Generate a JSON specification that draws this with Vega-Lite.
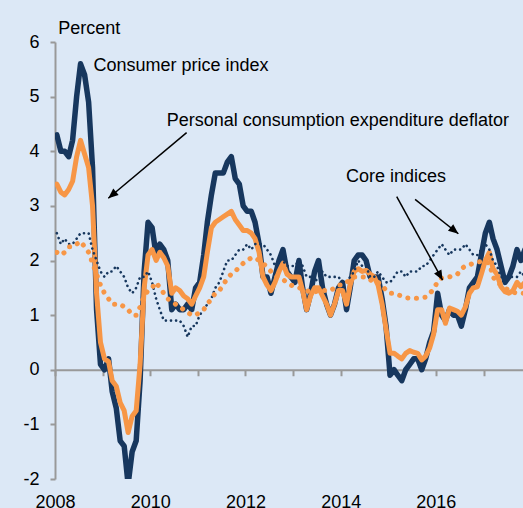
{
  "$schema": "https://vega.github.io/schema/vega-lite/v6.json",
  "width": 468,
  "height": 437,
  "autosize": {"type": "none"},
  "padding": {"left": 55, "top": 42, "right": 0, "bottom": 29},
  "background": "#dce8f6",
  "config": {
    "view": {"stroke": null},
    "font": "Liberation Sans",
    "axisY": {"grid": false, "titleAngle": 0, "titleAlign": "left", "titleBaseline": "alphabetic", "titleX": 2.7, "titleY": -9,
      "titleFontSize": 18, "titleFontWeight": "normal", "titleColor": "#000000", "labelFontSize": 18, "labelColor": "#000000",
      "labelPadding": 11, "tickSize": 5, "tickWidth": 2, "tickColor": "#999999", "domainColor": "#999999", "domainWidth": 2}
  },
  "datasets": {
    "m": [
      {"d":"2008-01-15","cpi":4.3,"pce":3.4,"ccpi":2.5,"cpce":2.15},
      {"d":"2008-02-15","cpi":4.0,"pce":3.25,"ccpi":2.3,"cpce":2.1},
      {"d":"2008-03-15","cpi":4.0,"pce":3.2,"ccpi":2.4,"cpce":2.15},
      {"d":"2008-04-15","cpi":3.9,"pce":3.3,"ccpi":2.3,"cpce":2.25},
      {"d":"2008-05-15","cpi":4.2,"pce":3.45,"ccpi":2.3,"cpce":2.25},
      {"d":"2008-06-15","cpi":5.0,"pce":3.9,"ccpi":2.4,"cpce":2.3},
      {"d":"2008-07-15","cpi":5.6,"pce":4.2,"ccpi":2.5,"cpce":2.35},
      {"d":"2008-08-15","cpi":5.4,"pce":3.95,"ccpi":2.5,"cpce":2.25},
      {"d":"2008-09-15","cpi":4.9,"pce":3.7,"ccpi":2.5,"cpce":2.15},
      {"d":"2008-10-15","cpi":3.7,"pce":3.0,"ccpi":2.2,"cpce":1.95},
      {"d":"2008-11-15","cpi":1.1,"pce":1.4,"ccpi":2.0,"cpce":1.75},
      {"d":"2008-12-15","cpi":0.1,"pce":0.5,"ccpi":1.8,"cpce":1.55},
      {"d":"2009-01-15","cpi":0.0,"pce":0.2,"ccpi":1.7,"cpce":1.4},
      {"d":"2009-02-15","cpi":0.2,"pce":0.15,"ccpi":1.8,"cpce":1.3},
      {"d":"2009-03-15","cpi":-0.4,"pce":-0.2,"ccpi":1.8,"cpce":1.2},
      {"d":"2009-04-15","cpi":-0.7,"pce":-0.3,"ccpi":1.9,"cpce":1.2},
      {"d":"2009-05-15","cpi":-1.3,"pce":-0.6,"ccpi":1.8,"cpce":1.2},
      {"d":"2009-06-15","cpi":-1.4,"pce":-0.75,"ccpi":1.7,"cpce":1.15},
      {"d":"2009-07-15","cpi":-2.1,"pce":-1.15,"ccpi":1.5,"cpce":1.1},
      {"d":"2009-08-15","cpi":-1.5,"pce":-0.85,"ccpi":1.4,"cpce":1.0},
      {"d":"2009-09-15","cpi":-1.3,"pce":-0.75,"ccpi":1.5,"cpce":1.0},
      {"d":"2009-10-15","cpi":-0.2,"pce":0.1,"ccpi":1.7,"cpce":1.15},
      {"d":"2009-11-15","cpi":1.8,"pce":1.5,"ccpi":1.7,"cpce":1.35},
      {"d":"2009-12-15","cpi":2.7,"pce":2.1,"ccpi":1.8,"cpce":1.45},
      {"d":"2010-01-15","cpi":2.6,"pce":2.2,"ccpi":1.6,"cpce":1.5},
      {"d":"2010-02-15","cpi":2.1,"pce":2.0,"ccpi":1.3,"cpce":1.6},
      {"d":"2010-03-15","cpi":2.3,"pce":2.15,"ccpi":1.1,"cpce":1.5},
      {"d":"2010-04-15","cpi":2.2,"pce":2.05,"ccpi":0.9,"cpce":1.4},
      {"d":"2010-05-15","cpi":2.0,"pce":1.9,"ccpi":0.9,"cpce":1.3},
      {"d":"2010-06-15","cpi":1.1,"pce":1.4,"ccpi":0.9,"cpce":1.25},
      {"d":"2010-07-15","cpi":1.2,"pce":1.5,"ccpi":0.9,"cpce":1.2},
      {"d":"2010-08-15","cpi":1.1,"pce":1.45,"ccpi":0.9,"cpce":1.15},
      {"d":"2010-09-15","cpi":1.1,"pce":1.35,"ccpi":0.8,"cpce":1.1},
      {"d":"2010-10-15","cpi":1.2,"pce":1.3,"ccpi":0.6,"cpce":1.05},
      {"d":"2010-11-15","cpi":1.1,"pce":1.2,"ccpi":0.8,"cpce":1.0},
      {"d":"2010-12-15","cpi":1.5,"pce":1.35,"ccpi":0.8,"cpce":1.0},
      {"d":"2011-01-15","cpi":1.6,"pce":1.5,"ccpi":1.0,"cpce":1.05},
      {"d":"2011-02-15","cpi":2.1,"pce":1.7,"ccpi":1.1,"cpce":1.1},
      {"d":"2011-03-15","cpi":2.7,"pce":2.15,"ccpi":1.2,"cpce":1.2},
      {"d":"2011-04-15","cpi":3.2,"pce":2.6,"ccpi":1.3,"cpce":1.3},
      {"d":"2011-05-15","cpi":3.6,"pce":2.7,"ccpi":1.5,"cpce":1.4},
      {"d":"2011-06-15","cpi":3.6,"pce":2.75,"ccpi":1.6,"cpce":1.45},
      {"d":"2011-07-15","cpi":3.6,"pce":2.8,"ccpi":1.8,"cpce":1.55},
      {"d":"2011-08-15","cpi":3.8,"pce":2.85,"ccpi":2.0,"cpce":1.68},
      {"d":"2011-09-15","cpi":3.9,"pce":2.9,"ccpi":2.0,"cpce":1.75},
      {"d":"2011-10-15","cpi":3.5,"pce":2.75,"ccpi":2.1,"cpce":1.8},
      {"d":"2011-11-15","cpi":3.4,"pce":2.65,"ccpi":2.2,"cpce":1.88},
      {"d":"2011-12-15","cpi":3.0,"pce":2.55,"ccpi":2.2,"cpce":1.95},
      {"d":"2012-01-15","cpi":2.9,"pce":2.55,"ccpi":2.3,"cpce":2.0},
      {"d":"2012-02-15","cpi":2.9,"pce":2.5,"ccpi":2.2,"cpce":2.05},
      {"d":"2012-03-15","cpi":2.7,"pce":2.4,"ccpi":2.3,"cpce":2.05},
      {"d":"2012-04-15","cpi":2.3,"pce":2.15,"ccpi":2.3,"cpce":2.0},
      {"d":"2012-05-15","cpi":1.7,"pce":1.7,"ccpi":2.3,"cpce":1.95},
      {"d":"2012-06-15","cpi":1.7,"pce":1.55,"ccpi":2.2,"cpce":1.88},
      {"d":"2012-07-15","cpi":1.4,"pce":1.45,"ccpi":2.1,"cpce":1.8},
      {"d":"2012-08-15","cpi":1.7,"pce":1.6,"ccpi":1.9,"cpce":1.72},
      {"d":"2012-09-15","cpi":2.0,"pce":1.8,"ccpi":2.0,"cpce":1.68},
      {"d":"2012-10-15","cpi":2.2,"pce":1.95,"ccpi":2.0,"cpce":1.65},
      {"d":"2012-11-15","cpi":1.8,"pce":1.75,"ccpi":1.9,"cpce":1.6},
      {"d":"2012-12-15","cpi":1.7,"pce":1.7,"ccpi":1.9,"cpce":1.55},
      {"d":"2013-01-15","cpi":1.6,"pce":1.7,"ccpi":1.9,"cpce":1.52},
      {"d":"2013-02-15","cpi":2.0,"pce":1.7,"ccpi":2.0,"cpce":1.5},
      {"d":"2013-03-15","cpi":1.5,"pce":1.45,"ccpi":1.9,"cpce":1.48},
      {"d":"2013-04-15","cpi":1.1,"pce":1.1,"ccpi":1.7,"cpce":1.45},
      {"d":"2013-05-15","cpi":1.4,"pce":1.35,"ccpi":1.7,"cpce":1.42},
      {"d":"2013-06-15","cpi":1.8,"pce":1.5,"ccpi":1.6,"cpce":1.42},
      {"d":"2013-07-15","cpi":2.0,"pce":1.5,"ccpi":1.7,"cpce":1.45},
      {"d":"2013-08-15","cpi":1.5,"pce":1.35,"ccpi":1.8,"cpce":1.45},
      {"d":"2013-09-15","cpi":1.2,"pce":1.2,"ccpi":1.7,"cpce":1.45},
      {"d":"2013-10-15","cpi":1.0,"pce":1.0,"ccpi":1.7,"cpce":1.45},
      {"d":"2013-11-15","cpi":1.2,"pce":1.2,"ccpi":1.7,"cpce":1.5},
      {"d":"2013-12-15","cpi":1.5,"pce":1.45,"ccpi":1.7,"cpce":1.55},
      {"d":"2014-01-15","cpi":1.6,"pce":1.45,"ccpi":1.6,"cpce":1.55},
      {"d":"2014-02-15","cpi":1.1,"pce":1.2,"ccpi":1.6,"cpce":1.6},
      {"d":"2014-03-15","cpi":1.5,"pce":1.55,"ccpi":1.7,"cpce":1.65},
      {"d":"2014-04-15","cpi":2.0,"pce":1.8,"ccpi":1.8,"cpce":1.7},
      {"d":"2014-05-15","cpi":2.1,"pce":1.85,"ccpi":2.0,"cpce":1.7},
      {"d":"2014-06-15","cpi":2.1,"pce":1.8,"ccpi":1.9,"cpce":1.7},
      {"d":"2014-07-15","cpi":2.0,"pce":1.82,"ccpi":1.9,"cpce":1.7},
      {"d":"2014-08-15","cpi":1.7,"pce":1.75,"ccpi":1.7,"cpce":1.65},
      {"d":"2014-09-15","cpi":1.7,"pce":1.7,"ccpi":1.7,"cpce":1.6},
      {"d":"2014-10-15","cpi":1.7,"pce":1.55,"ccpi":1.8,"cpce":1.6},
      {"d":"2014-11-15","cpi":1.3,"pce":1.2,"ccpi":1.7,"cpce":1.55},
      {"d":"2014-12-15","cpi":0.8,"pce":0.75,"ccpi":1.6,"cpce":1.45},
      {"d":"2015-01-15","cpi":-0.1,"pce":0.3,"ccpi":1.6,"cpce":1.4},
      {"d":"2015-02-15","cpi":0.0,"pce":0.3,"ccpi":1.7,"cpce":1.4},
      {"d":"2015-03-15","cpi":-0.1,"pce":0.25,"ccpi":1.8,"cpce":1.37},
      {"d":"2015-04-15","cpi":-0.2,"pce":0.2,"ccpi":1.8,"cpce":1.35},
      {"d":"2015-05-15","cpi":0.0,"pce":0.3,"ccpi":1.7,"cpce":1.32},
      {"d":"2015-06-15","cpi":0.1,"pce":0.35,"ccpi":1.8,"cpce":1.31},
      {"d":"2015-07-15","cpi":0.2,"pce":0.32,"ccpi":1.8,"cpce":1.31},
      {"d":"2015-08-15","cpi":0.2,"pce":0.3,"ccpi":1.8,"cpce":1.31},
      {"d":"2015-09-15","cpi":0.0,"pce":0.18,"ccpi":1.9,"cpce":1.32},
      {"d":"2015-10-15","cpi":0.2,"pce":0.25,"ccpi":1.9,"cpce":1.33},
      {"d":"2015-11-15","cpi":0.5,"pce":0.4,"ccpi":2.0,"cpce":1.4},
      {"d":"2015-12-15","cpi":0.7,"pce":0.65,"ccpi":2.1,"cpce":1.47},
      {"d":"2016-01-15","cpi":1.4,"pce":1.1,"ccpi":2.2,"cpce":1.62},
      {"d":"2016-02-15","cpi":1.0,"pce":1.1,"ccpi":2.3,"cpce":1.68},
      {"d":"2016-03-15","cpi":0.9,"pce":0.85,"ccpi":2.2,"cpce":1.69},
      {"d":"2016-04-15","cpi":1.1,"pce":1.13,"ccpi":2.1,"cpce":1.7},
      {"d":"2016-05-15","cpi":1.0,"pce":1.1,"ccpi":2.2,"cpce":1.72},
      {"d":"2016-06-15","cpi":1.0,"pce":1.07,"ccpi":2.2,"cpce":1.75},
      {"d":"2016-07-15","cpi":0.8,"pce":1.0,"ccpi":2.2,"cpce":1.85},
      {"d":"2016-08-15","cpi":1.1,"pce":1.15,"ccpi":2.3,"cpce":1.9},
      {"d":"2016-09-15","cpi":1.5,"pce":1.4,"ccpi":2.2,"cpce":1.92},
      {"d":"2016-10-15","cpi":1.6,"pce":1.5,"ccpi":2.1,"cpce":1.95},
      {"d":"2016-11-15","cpi":1.7,"pce":1.52,"ccpi":2.1,"cpce":1.97},
      {"d":"2016-12-15","cpi":2.1,"pce":1.75,"ccpi":2.2,"cpce":1.98},
      {"d":"2017-01-15","cpi":2.5,"pce":2.0,"ccpi":2.3,"cpce":1.98},
      {"d":"2017-02-15","cpi":2.7,"pce":2.15,"ccpi":2.2,"cpce":1.95},
      {"d":"2017-03-15","cpi":2.4,"pce":1.85,"ccpi":2.0,"cpce":1.7},
      {"d":"2017-04-15","cpi":2.2,"pce":1.75,"ccpi":1.9,"cpce":1.6},
      {"d":"2017-05-15","cpi":1.9,"pce":1.52,"ccpi":1.7,"cpce":1.55},
      {"d":"2017-06-15","cpi":1.6,"pce":1.43,"ccpi":1.7,"cpce":1.5},
      {"d":"2017-07-15","cpi":1.7,"pce":1.4,"ccpi":1.7,"cpce":1.45},
      {"d":"2017-08-15","cpi":1.9,"pce":1.45,"ccpi":1.7,"cpce":1.42},
      {"d":"2017-09-15","cpi":2.2,"pce":1.6,"ccpi":1.7,"cpce":1.4},
      {"d":"2017-10-15","cpi":2.0,"pce":1.52,"ccpi":1.8,"cpce":1.4},
      {"d":"2017-11-15","cpi":2.2,"pce":1.6,"ccpi":1.7,"cpce":1.4}
    ],
    "lab": [
      {"d":"2008-10-22","v":5.47,"t":"Consumer price index"},
      {"d":"2010-05-07","v":4.46,"t":"Personal consumption expenditure deflator"},
      {"d":"2014-02-11","v":3.43,"t":"Core indices"}
    ],
    "arr": [
      {"d":"2010-10-07","v":4.34,"d2":"2009-02-13","v2":3.14,"a":230},
      {"d":"2015-03-07","v":3.17,"d2":"2016-02-22","v2":1.64,"a":151},
      {"d":"2015-07-26","v":3.12,"d2":"2016-06-22","v2":2.49,"a":129}
    ]
  },
  "resolve": {"axis": {"x": "independent"}},
  "layer": [
    {
      "data": {"name": "m"},
      "mark": {"type": "line", "color": "#17375e", "strokeWidth": 5.5, "strokeJoin": "round", "strokeCap": "round", "clip": true},
      "encoding": {
        "x": {"field": "d", "type": "temporal",
          "scale": {"domain": [{"year": 2008, "month": 1, "date": 1}, {"year": 2017, "month": 10, "date": 31}]},
          "axis": {"orient": "bottom", "title": null, "grid": false, "domain": false, "ticks": false, "tickSize": 0,
            "values": [{"year":2008,"month":1,"date":1},{"year":2010,"month":1,"date":1},{"year":2012,"month":1,"date":1},{"year":2014,"month":1,"date":1},{"year":2016,"month":1,"date":1}],
            "format": "%Y", "labelPadding": 14, "labelFontSize": 18, "labelColor": "#000000", "labelFlush": false, "labelOverlap": false}},
        "y": {"field": "cpi", "type": "quantitative", "title": "Percent",
          "scale": {"domain": [-2, 6], "nice": false, "zero": false},
          "axis": {"values": [-2, -1, 0, 1, 2, 3, 4, 5, 6], "title": "Percent", "labelExpr": "datum.value < 0 ? '-' + abs(datum.value) : '' + datum.value"}}
      }
    },
    {
      "data": {"name": "m"},
      "mark": {"type": "line", "color": "#f79646", "strokeWidth": 5, "strokeJoin": "round", "strokeCap": "round", "clip": true},
      "encoding": {
        "x": {"field": "d", "type": "temporal",
          "scale": {"domain": [{"year": 2008, "month": 1, "date": 1}, {"year": 2017, "month": 10, "date": 31}]},
          "axis": {"orient": "bottom", "title": null, "grid": false, "labels": false, "domain": true, "domainColor": "#999999", "domainWidth": 2,
            "ticks": true, "tickSize": 6, "tickWidth": 2, "tickColor": "#999999", "offset": -109.25,
            "values": [{"year":2008,"month":1,"date":1},{"year":2009,"month":1,"date":1},{"year":2010,"month":1,"date":1},{"year":2011,"month":1,"date":1},{"year":2012,"month":1,"date":1},{"year":2013,"month":1,"date":1},{"year":2014,"month":1,"date":1},{"year":2015,"month":1,"date":1},{"year":2016,"month":1,"date":1},{"year":2017,"month":1,"date":1}]}},
        "y": {"field": "pce", "type": "quantitative", "title": "Percent", "scale": {"domain": [-2, 6], "nice": false, "zero": false},
          "axis": {"values": [-2, -1, 0, 1, 2, 3, 4, 5, 6], "title": "Percent", "labelExpr": "datum.value < 0 ? '-' + abs(datum.value) : '' + datum.value"}}
      }
    },
    {
      "data": {"name": "m"},
      "mark": {"type": "line", "color": "#17375e", "strokeWidth": 2.6, "strokeCap": "round", "strokeDash": [0.1, 5], "clip": true},
      "encoding": {
        "x": {"field": "d", "type": "temporal", "scale": {"domain": [{"year": 2008, "month": 1, "date": 1}, {"year": 2017, "month": 10, "date": 31}]}, "axis": null},
        "y": {"field": "ccpi", "type": "quantitative", "title": "Percent", "scale": {"domain": [-2, 6], "nice": false, "zero": false},
          "axis": {"values": [-2, -1, 0, 1, 2, 3, 4, 5, 6], "title": "Percent", "labelExpr": "datum.value < 0 ? '-' + abs(datum.value) : '' + datum.value"}}
      }
    },
    {
      "data": {"name": "m"},
      "mark": {"type": "line", "color": "#f79646", "strokeWidth": 5, "strokeCap": "round", "strokeDash": [0.1, 8.5], "clip": true},
      "encoding": {
        "x": {"field": "d", "type": "temporal", "scale": {"domain": [{"year": 2008, "month": 1, "date": 1}, {"year": 2017, "month": 10, "date": 31}]}, "axis": null},
        "y": {"field": "cpce", "type": "quantitative", "title": "Percent", "scale": {"domain": [-2, 6], "nice": false, "zero": false},
          "axis": {"values": [-2, -1, 0, 1, 2, 3, 4, 5, 6], "title": "Percent", "labelExpr": "datum.value < 0 ? '-' + abs(datum.value) : '' + datum.value"}}
      }
    },
    {
      "data": {"name": "arr"},
      "mark": {"type": "rule", "color": "#000000", "strokeWidth": 1.5},
      "encoding": {
        "x": {"field": "d", "type": "temporal", "scale": {"domain": [{"year": 2008, "month": 1, "date": 1}, {"year": 2017, "month": 10, "date": 31}]}, "axis": null},
        "y": {"field": "v", "type": "quantitative", "title": "Percent", "scale": {"domain": [-2, 6], "nice": false, "zero": false},
          "axis": {"values": [-2, -1, 0, 1, 2, 3, 4, 5, 6], "title": "Percent", "labelExpr": "datum.value < 0 ? '-' + abs(datum.value) : '' + datum.value"}},
        "x2": {"field": "d2"},
        "y2": {"field": "v2"}
      }
    },
    {
      "data": {"name": "arr"},
      "mark": {"type": "point", "shape": "M0,0L-0.42,1L0.42,1Z", "filled": true, "color": "#000000", "opacity": 1, "size": 400, "strokeWidth": 0},
      "encoding": {
        "x": {"field": "d2", "type": "temporal", "scale": {"domain": [{"year": 2008, "month": 1, "date": 1}, {"year": 2017, "month": 10, "date": 31}]}, "axis": null},
        "y": {"field": "v2", "type": "quantitative", "title": "Percent", "scale": {"domain": [-2, 6], "nice": false, "zero": false},
          "axis": {"values": [-2, -1, 0, 1, 2, 3, 4, 5, 6], "title": "Percent", "labelExpr": "datum.value < 0 ? '-' + abs(datum.value) : '' + datum.value"}},
        "angle": {"field": "a", "type": "quantitative", "scale": null}
      }
    },
    {
      "data": {"name": "lab"},
      "mark": {"type": "text", "align": "left", "baseline": "alphabetic", "fontSize": 18, "color": "#000000"},
      "encoding": {
        "x": {"field": "d", "type": "temporal", "scale": {"domain": [{"year": 2008, "month": 1, "date": 1}, {"year": 2017, "month": 10, "date": 31}]}, "axis": null},
        "y": {"field": "v", "type": "quantitative", "title": "Percent", "scale": {"domain": [-2, 6], "nice": false, "zero": false},
          "axis": {"values": [-2, -1, 0, 1, 2, 3, 4, 5, 6], "title": "Percent", "labelExpr": "datum.value < 0 ? '-' + abs(datum.value) : '' + datum.value"}},
        "text": {"field": "t"}
      }
    }
  ]
}
